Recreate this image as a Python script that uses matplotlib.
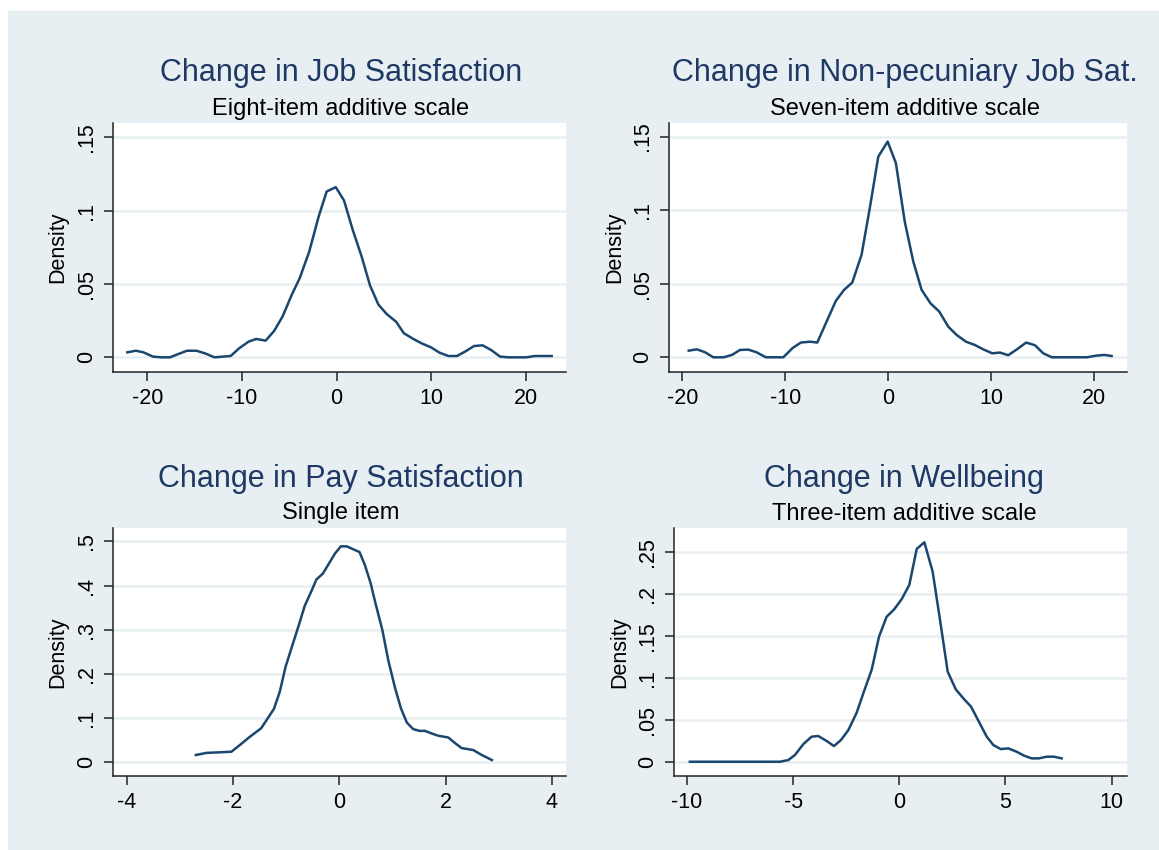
import matplotlib.pyplot as plt
from matplotlib.patches import Rectangle

plt.rcParams['font.family'] = ['Liberation Sans', 'DejaVu Sans']
plt.rcParams['axes.unicode_minus'] = False

# Kernel density estimates.
job_x = [-22.1, -21.2, -20.4, -19.4, -18.5, -17.6, -16.7, -15.8, -14.8, -13.9,
         -12.9, -12.0, -11.2, -10.3, -9.3, -8.5, -7.5, -6.6, -5.7, -4.75,
         -3.9, -2.9, -1.9, -1.06, -0.1, 0.77, 1.69, 2.64, 3.52, 4.4,
         5.28, 6.27, 7.1, 8.1, 8.98, 9.96, 10.85, 11.8, 12.7, 13.56,
         14.5, 15.4, 16.3, 17.25, 18.1, 19.0, 20.0, 20.95, 21.8, 22.7]
job_y = [0.0034, 0.0045, 0.0034, 0.0005, 0.0, 0.0, 0.0023, 0.0045, 0.0045, 0.0027,
         0.0, 0.0005, 0.0009, 0.0061, 0.0107, 0.0125, 0.0114, 0.018, 0.028, 0.0425,
         0.054, 0.072, 0.096, 0.113, 0.116, 0.107, 0.087, 0.0686, 0.049, 0.036,
         0.0295, 0.0243, 0.0164, 0.0125, 0.0095, 0.0068, 0.0032, 0.0009, 0.0009, 0.0039,
         0.0077, 0.0082, 0.005, 0.0005, 0.0, 0.0, 0.0, 0.0009, 0.0009, 0.0009]

nonpec_x = [-19.4, -18.6, -17.8, -17.0, -16.0, -15.2, -14.4, -13.6, -12.8, -11.9,
            -11.0, -10.2, -9.3, -8.5, -7.6, -6.9, -6.0, -5.1, -4.3, -3.5,
            -2.6, -1.8, -0.97, -0.06, 0.74, 1.6, 2.43, 3.24, 4.1, 4.96,
            5.83, 6.64, 7.55, 8.4, 9.23, 10.1, 10.85, 11.66, 12.5, 13.4,
            14.25, 15.06, 15.9, 16.8, 17.65, 18.5, 19.3, 20.2, 21.0, 21.7]
nonpec_y = [0.0045, 0.0054, 0.0034, 0.0, 0.0, 0.0016, 0.005, 0.0052, 0.0034, 0.0,
            0.0, 0.0, 0.0063, 0.01, 0.0106, 0.01, 0.0242, 0.0383, 0.0458, 0.0508,
            0.0696, 0.1013, 0.1364, 0.1466, 0.1319, 0.0922, 0.065, 0.0458, 0.0367, 0.031,
            0.0208, 0.0152, 0.0106, 0.0084, 0.0054, 0.0027, 0.0032, 0.0014, 0.0054, 0.01,
            0.0082, 0.0027, 0.0, 0.0, 0.0, 0.0, 0.0, 0.0011, 0.0016, 0.0009]

pay_x = [-2.70, -2.50, -2.28, -2.03, -1.87, -1.70, -1.47, -1.23, -1.12, -1.01,
         -0.90, -0.77, -0.65, -0.53, -0.43, -0.31, -0.19, -0.08, 0.03, 0.14,
         0.25, 0.38, 0.48, 0.59, 0.68, 0.81, 0.92, 1.05, 1.16, 1.27,
         1.39, 1.51, 1.61, 1.74, 1.86, 2.05, 2.18, 2.30, 2.52, 2.68, 2.87]
pay_y = [0.0152, 0.020, 0.0212, 0.0227, 0.038, 0.055, 0.076, 0.120, 0.159, 0.216,
         0.258, 0.307, 0.354, 0.386, 0.414, 0.427, 0.451, 0.473, 0.489, 0.489,
         0.483, 0.476, 0.447, 0.405, 0.360, 0.299, 0.231, 0.167, 0.121, 0.089,
         0.074, 0.070, 0.070, 0.064, 0.059, 0.055, 0.042, 0.031, 0.0265, 0.0152, 0.0038]

well_x = [-9.87, -9.51, -9.16, -8.80, -8.44, -8.08, -7.73, -7.37, -7.01, -6.66,
          -6.30, -5.94, -5.62, -5.23, -4.92, -4.52, -4.13, -3.82, -3.42, -3.08,
          -2.75, -2.40, -2.01, -1.67, -1.30, -0.96, -0.60, -0.24, 0.11, 0.47,
          0.82, 1.18, 1.57, 1.92, 2.28, 2.66, 3.02, 3.38, 3.75, 4.12,
          4.43, 4.78, 5.14, 5.53, 5.88, 6.24, 6.58, 6.94, 7.29, 7.65]
well_y = [0.0, 0.0, 0.0, 0.0, 0.0, 0.0, 0.0, 0.0, 0.0, 0.0,
          0.0, 0.0, 0.0, 0.002, 0.008, 0.0211, 0.0299, 0.0307, 0.0247, 0.0187,
          0.0259, 0.0378, 0.0585, 0.0836, 0.110, 0.149, 0.173, 0.182, 0.194, 0.211,
          0.254, 0.262, 0.227, 0.169, 0.1075, 0.0864, 0.0756, 0.0657, 0.0478, 0.0299,
          0.0199, 0.0151, 0.0159, 0.0119, 0.0072, 0.004, 0.004, 0.006, 0.006, 0.004]

titles = ['Change in Job Satisfaction', 'Change in Non-pecuniary Job Sat.',
          'Change in Pay Satisfaction', 'Change in Wellbeing']
subtitles = ['Eight-item additive scale', 'Seven-item additive scale',
             'Single item', 'Three-item additive scale']

xticks = [[-20, -10, 0, 10, 20], [-20, -10, 0, 10, 20],
          [-4, -2, 0, 2, 4], [-10, -5, 0, 5, 10]]
yticks = [[0, 0.05, 0.1, 0.15], [0, 0.05, 0.1, 0.15],
          [0, 0.1, 0.2, 0.3, 0.4, 0.5], [0, 0.05, 0.1, 0.15, 0.2, 0.25]]
ytick_labels = [['0', '.05', '.1', '.15'], ['0', '.05', '.1', '.15'],
                ['0', '.1', '.2', '.3', '.4', '.5'],
                ['0', '.05', '.1', '.15', '.2', '.25']]

series = [(job_x, job_y), (nonpec_x, nonpec_y), (pay_x, pay_y), (well_x, well_y)]

bg = '#E8EFF2'
line_color = '#1A476F'
title_color = '#1F3864'

fig = plt.figure(figsize=(11.59, 8.5), dpi=100, facecolor='white')
fig.patches.append(Rectangle((8 / 1159, 0), 1, 1 - 11 / 850,
                             transform=fig.transFigure, color=bg, zorder=-10))

# Axes boxes in figure fractions and the limits that go with them.
boxes = [[0.0972, 0.5627, 0.3909, 0.2922], [0.5775, 0.5627, 0.3949, 0.2922],
         [0.0972, 0.0874, 0.3909, 0.2911], [0.5815, 0.0874, 0.3909, 0.2911]]
xlims = [(-23.65, 24.18), (-21.28, 23.2), (-4.265, 4.26), (-10.62, 10.73)]
ylims = [(-0.0098, 0.1595), (-0.0098, 0.159), (-0.0318, 0.530), (-0.0167, 0.2787)]
title_x = [341, 905, 341, 904]
title_base = [81.5, 81.5, 486.5, 486.5]
sub_base = [115, 115, 519.5, 519.5]

for i in range(4):
    ax = fig.add_axes(boxes[i])
    ax.set_facecolor('white')
    x, y = series[i]
    ax.plot(x, y, color=line_color, lw=1.8, zorder=3)
    ax.set_xlim(xlims[i])
    ax.set_ylim(ylims[i])
    ax.set_xticks(xticks[i])
    ax.set_yticks(yticks[i])
    ax.set_yticklabels(ytick_labels[i], rotation=90, va='center')
    ax.yaxis.grid(True, color=bg, lw=1.8)
    ax.set_axisbelow(True)
    for side in ['top', 'right']:
        ax.spines[side].set_visible(False)
    for side in ['left', 'bottom']:
        ax.spines[side].set_color('#222222')
        ax.spines[side].set_linewidth(1.1)
    ax.tick_params(length=6.5, width=1.1, color='#222222', labelsize=15.5, pad=5)
    ax.set_ylabel('Density', fontsize=15.5, labelpad=5)

    fig.text(title_x[i] / 1159, 1 - title_base[i] / 850, titles[i],
             ha='center', va='baseline', fontsize=22, color=title_color)
    fig.text(title_x[i] / 1159, 1 - sub_base[i] / 850, subtitles[i],
             ha='center', va='baseline', fontsize=17, color='black')

plt.savefig('out.png', dpi=100, facecolor='white')
